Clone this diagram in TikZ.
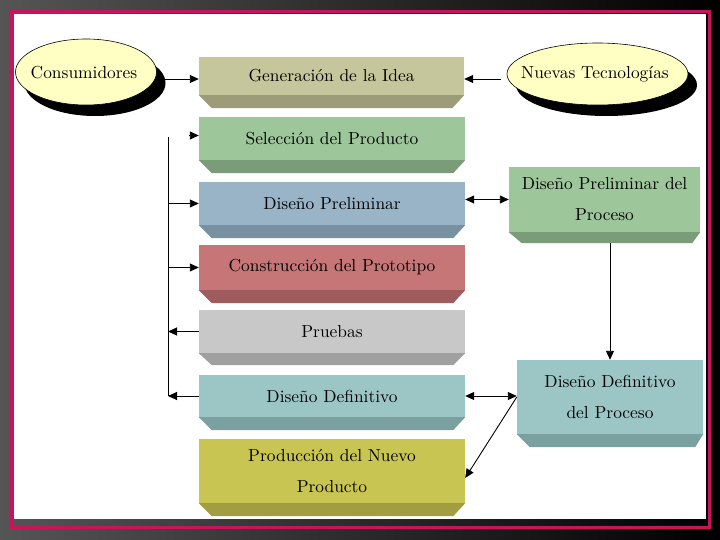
\documentclass[tikz,border=0pt]{standalone}
\usepackage{fontspec}
\usetikzlibrary{arrows.meta,calc}
\newfontfamily\lmten{lmroman10-regular}[Extension=.otf]
\definecolor{bgl}{HTML}{555555}
\definecolor{framec}{HTML}{C8145A}
\definecolor{genF}{HTML}{C6C69C}\definecolor{genB}{HTML}{9C9C78}
\definecolor{selF}{HTML}{9DC79B}\definecolor{selB}{HTML}{7A9C78}
\definecolor{dpreF}{HTML}{98B4C6}\definecolor{dpreB}{HTML}{7890A0}
\definecolor{conF}{HTML}{C67676}\definecolor{conB}{HTML}{9E5C5C}
\definecolor{prF}{HTML}{C8C8C8}\definecolor{prB}{HTML}{A0A0A0}
\definecolor{ddF}{HTML}{9CC6C6}\definecolor{ddB}{HTML}{7AA0A0}
\definecolor{prodF}{HTML}{C8C552}\definecolor{prodB}{HTML}{A09E40}
\definecolor{ellc}{HTML}{FFFFC4}
\newcommand\bxs[1]{\lmten\fontsize{#1}{31}\selectfont}
% name, depth, left inset, right inset, colour
\newcommand\bevel[5]{\fill[#5] (#1.south west) -- (#1.south east) -- ++(-#4,#2) -- ($(#1.south west)+(#3,#2)$) -- cycle;}
\begin{document}
\begin{tikzpicture}[x=1pt,y=-1pt,
  box/.style={rectangle, inner sep=0pt, align=center, font=\bxs{17.4}, text=black},
  etext/.style={inner sep=0pt, font=\bxs{17.4}},
  ar/.style={-{Triangle[length=9pt,width=8pt]}, line width=0.9pt},
  dar/.style={{Triangle[length=9pt,width=8pt]}-{Triangle[length=9pt,width=8pt]}, line width=0.9pt},
  ln/.style={line width=0.9pt}]
\useasboundingbox (0,0) rectangle (720,540);
\shade[left color=bgl, right color=black] (0,0) rectangle (720,540);
\draw[framec, line width=3.5pt] (12,11.5) rectangle (709.5,527.5);
\fill[white] (14,14) rectangle (706,519);

% ellipses
\fill[black] (95,83) ellipse (70.5 and 33);
\draw[fill=ellc, line width=0.6pt] (86,72) ellipse (70.5 and 33);
\node[etext] (cons) at (84,73) {Consumidores};
\fill[black] (606.5,85) ellipse (90.5 and 31);
\draw[fill=ellc, line width=0.6pt] (597.5,74) ellipse (90.5 and 31);
\node[etext] (nue) at (595,74) {Nuevas Tecnologías};

% main column
\node[box, fill=genF, minimum width=265pt, minimum height=38pt] (gen) at (331.5,76) {Generación de la Idea};
\bevel{gen}{13}{13}{12}{genB}
\node[box, fill=selF, minimum width=266pt, minimum height=43pt] (sel) at (332,138.5) {Selección del Producto};
\bevel{sel}{13}{13}{12}{selB}
\node[box, fill=dpreF, minimum width=266pt, minimum height=43pt] (dpre) at (332,203.5) {Diseño Preliminar};
\bevel{dpre}{13}{13}{12}{dpreB}
\node[box, fill=conF, minimum width=266pt, minimum height=45pt] (con) at (332,267.5) {Construcción del Prototipo};
\bevel{con}{13}{13}{12}{conB}
\node[box, fill=prF, minimum width=266pt, minimum height=43pt] (pru) at (332,331.5) {Pruebas};
\bevel{pru}{12}{13}{12}{prB}
\node[box, fill=ddF, minimum width=266pt, minimum height=42pt] (ddef) at (332,396) {Diseño Definitivo};
\bevel{ddef}{13}{13}{12}{ddB}
\node[box, fill=prodF, minimum width=266pt, minimum height=64pt] (prod) at (332,471) {Producción del Nuevo\\Producto};
\bevel{prod}{13}{13}{12}{prodB}

% right column
\node[box, fill=selF, minimum width=191pt, minimum height=65pt] (dpp) at (604.5,199.5) {Diseño Preliminar del\\Proceso};
\bevel{dpp}{11}{13}{8}{selB}
\node[box, fill=ddF, minimum width=186pt, minimum height=74pt] (ddp) at (610,397) {Diseño Definitivo\\del Proceso};
\bevel{ddp}{13}{13}{8}{ddB}

% connectors
\draw[ar] ($(cons.east |- gen.west)+(26,3)$) -- ($(gen.west)+(0,3)$);
\draw[ar] ($(nue.west |- gen.east)+(-20,3)$) -- ($(gen.east)+(0,3)$);

\coordinate (bt) at (168,137);
\draw[ln] (bt) -- (bt |- ddef.west);
\draw[ar] ([xshift=-10pt,yshift=3pt]sel.west) -- ([yshift=3pt]sel.west);
\draw[ar] (bt |- dpre.west) -- (dpre.west);
\draw[ar] (bt |- con.west) -- (con.west);
\draw[ar] (pru.west) -- (bt |- pru.west);
\draw[ar] (ddef.west) -- (bt |- ddef.west);

\draw[dar] (dpre.east |- dpp.west) -- (dpp.west);
\draw[dar] (ddef.east) -- (ddef.east -| ddp.west);
\draw[ar] ([yshift=-11pt]dpp.south -| ddp.north) -- (ddp.north);
\draw[ar] (ddp.west) -- ([yshift=-7pt]prod.east);
\end{tikzpicture}
\end{document}
